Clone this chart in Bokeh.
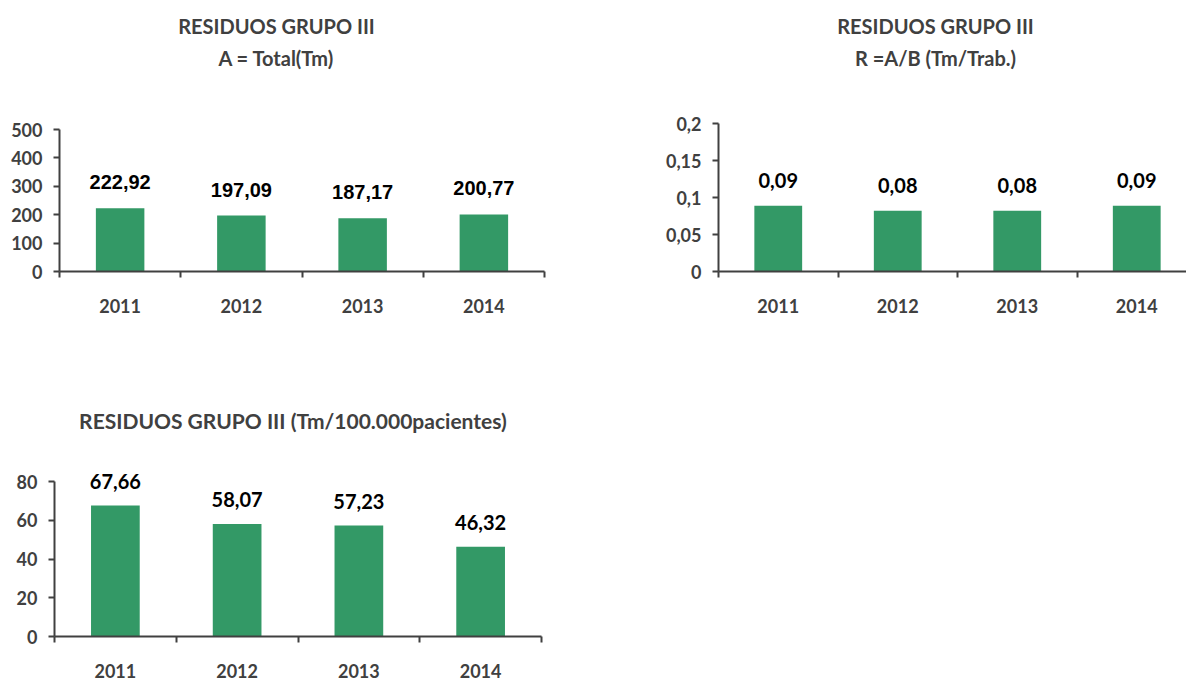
from bokeh.plotting import figure
from bokeh.layouts import row, column
from bokeh.models import FixedTicker, CustomJSTickFormatter, ColumnDataSource, Range1d
from bokeh.core.properties import value
from bokeh.embed import file_html
from bokeh.resources import INLINE

# ---------------- data ----------------
years = ["2011", "2012", "2013", "2014"]

total_tm = [222.92, 197.09, 187.17, 200.77]
total_labels = ["222,92", "197,09", "187,17", "200,77"]
total_ticks = [0, 100, 200, 300, 400, 500]

ratio_trab = [0.089, 0.082, 0.082, 0.089]
ratio_labels = ["0,09", "0,08", "0,08", "0,09"]
ratio_ticks = [0, 0.05, 0.1, 0.15, 0.2]

per_100k = [67.66, 58.07, 57.23, 46.32]
per_100k_labels = ["67,66", "58,07", "57,23", "46,32"]
per_100k_ticks = [0, 20, 40, 60, 80]

title_total = ["RESIDUOS GRUPO III", "A = Total(Tm)"]
title_ratio = ["RESIDUOS GRUPO III", "R =A/B (Tm/Trab.)"]
title_100k = ["RESIDUOS GRUPO III  (Tm/100.000pacientes)"]

# ---------------- style ----------------
GREEN = "#339966"
DARK = "#404040"
FONT = "Lato"


def make_chart(vals, labs, ticks, titles, *, width, height, b_left, b_right,
               b_top, b_bottom, px_top, x_end, title_dx, title_dys, label_font,
               label_off, year_standoff, title_size="20px"):
    frame_h = height - b_bottom - b_top
    y_end = ticks[-1] * frame_h / px_top
    p = figure(width=width, height=height, output_backend="svg",
               toolbar_location=None, tools="",
               x_range=Range1d(0.5, x_end), y_range=Range1d(0, y_end),
               min_border_left=b_left, min_border_right=b_right,
               min_border_top=b_top, min_border_bottom=b_bottom)
    p.outline_line_color = None
    p.grid.visible = False
    p.background_fill_color = "white"
    p.border_fill_color = "white"

    xs = list(range(1, len(years) + 1))
    src = ColumnDataSource(dict(x=xs, top=vals, lab=labs))
    p.vbar(x="x", top="top", width=0.4, bottom=0, source=src,
           fill_color=GREEN, line_color=None)
    p.text(x="x", y="top", text="lab", source=src, y_offset=-label_off,
           text_align="center", text_baseline="middle",
           text_font=value(label_font), text_font_style="bold",
           text_font_size="20px", text_color="black")

    # titles
    for t, dy in zip(titles, title_dys):
        p.text(x=[0.5], y=[y_end], text=[t], x_offset=title_dx, y_offset=dy,
               text_align="center", text_baseline="middle",
               text_font=value(FONT), text_font_style="bold",
               text_font_size=title_size, text_color=DARK)

    # y axis
    ya = p.yaxis[0]
    ya.ticker = FixedTicker(ticks=ticks)
    ya.bounds = (ticks[0], ticks[-1])
    ya.formatter = CustomJSTickFormatter(code="return tick.toString().replace('.', ',')")
    ya.axis_line_color = DARK
    ya.axis_line_width = 2
    ya.major_tick_line_color = DARK
    ya.major_tick_line_width = 2
    ya.major_tick_out = 6
    ya.major_tick_in = 0
    ya.minor_tick_line_color = None
    ya.major_label_standoff = 11
    ya.major_label_text_font = FONT
    ya.major_label_text_font_style = "bold"
    ya.major_label_text_font_size = "18px"
    ya.major_label_text_color = DARK

    # x axis: labels at category centres, ticks at boundaries
    xa = p.xaxis[0]
    xa.ticker = FixedTicker(ticks=xs, minor_ticks=[x - 0.5 for x in xs] + [xs[-1] + 0.5])
    xa.formatter = CustomJSTickFormatter(args=dict(cats=years),
                                         code="return cats[Math.round(tick) - 1]")
    xa.axis_line_color = DARK
    xa.axis_line_width = 2
    xa.major_tick_line_color = None
    xa.major_tick_out = 0
    xa.major_tick_in = 0
    xa.minor_tick_line_color = DARK
    xa.minor_tick_line_width = 2
    xa.minor_tick_out = 6
    xa.minor_tick_in = 0
    xa.major_label_standoff = year_standoff
    xa.major_label_text_font = FONT
    xa.major_label_text_font_style = "bold"
    xa.major_label_text_font_size = "18px"
    xa.major_label_text_color = DARK
    return p


p1 = make_chart(total_tm, total_labels, total_ticks, title_total,
                width=564, height=390, b_left=59, b_right=20, b_top=8,
                b_bottom=119, px_top=142, x_end=4.5, title_dx=217,
                title_dys=[17, 49], label_font="Liberation Sans",
                label_off=26, year_standoff=21)

p2 = make_chart(ratio_trab, ratio_labels, ratio_ticks, title_ratio,
                width=622, height=390, b_left=154, b_right=0, b_top=8,
                b_bottom=119, px_top=148, x_end=0.5 + 468 / 119.5,
                title_dx=217, title_dys=[17, 49], label_font=FONT,
                label_off=25, year_standoff=21)

p3 = make_chart(per_100k, per_100k_labels, per_100k_ticks, title_100k,
                width=561, height=290, b_left=54, b_right=20, b_top=0,
                b_bottom=44, px_top=155, x_end=4.5, title_dx=241,
                title_dys=[30], label_font=FONT, label_off=24,
                year_standoff=21, title_size="21px")

layout = column(row(p1, p2, spacing=0), p3, spacing=0)

with open("out.html", "w") as f:
    f.write(file_html(layout, INLINE))
